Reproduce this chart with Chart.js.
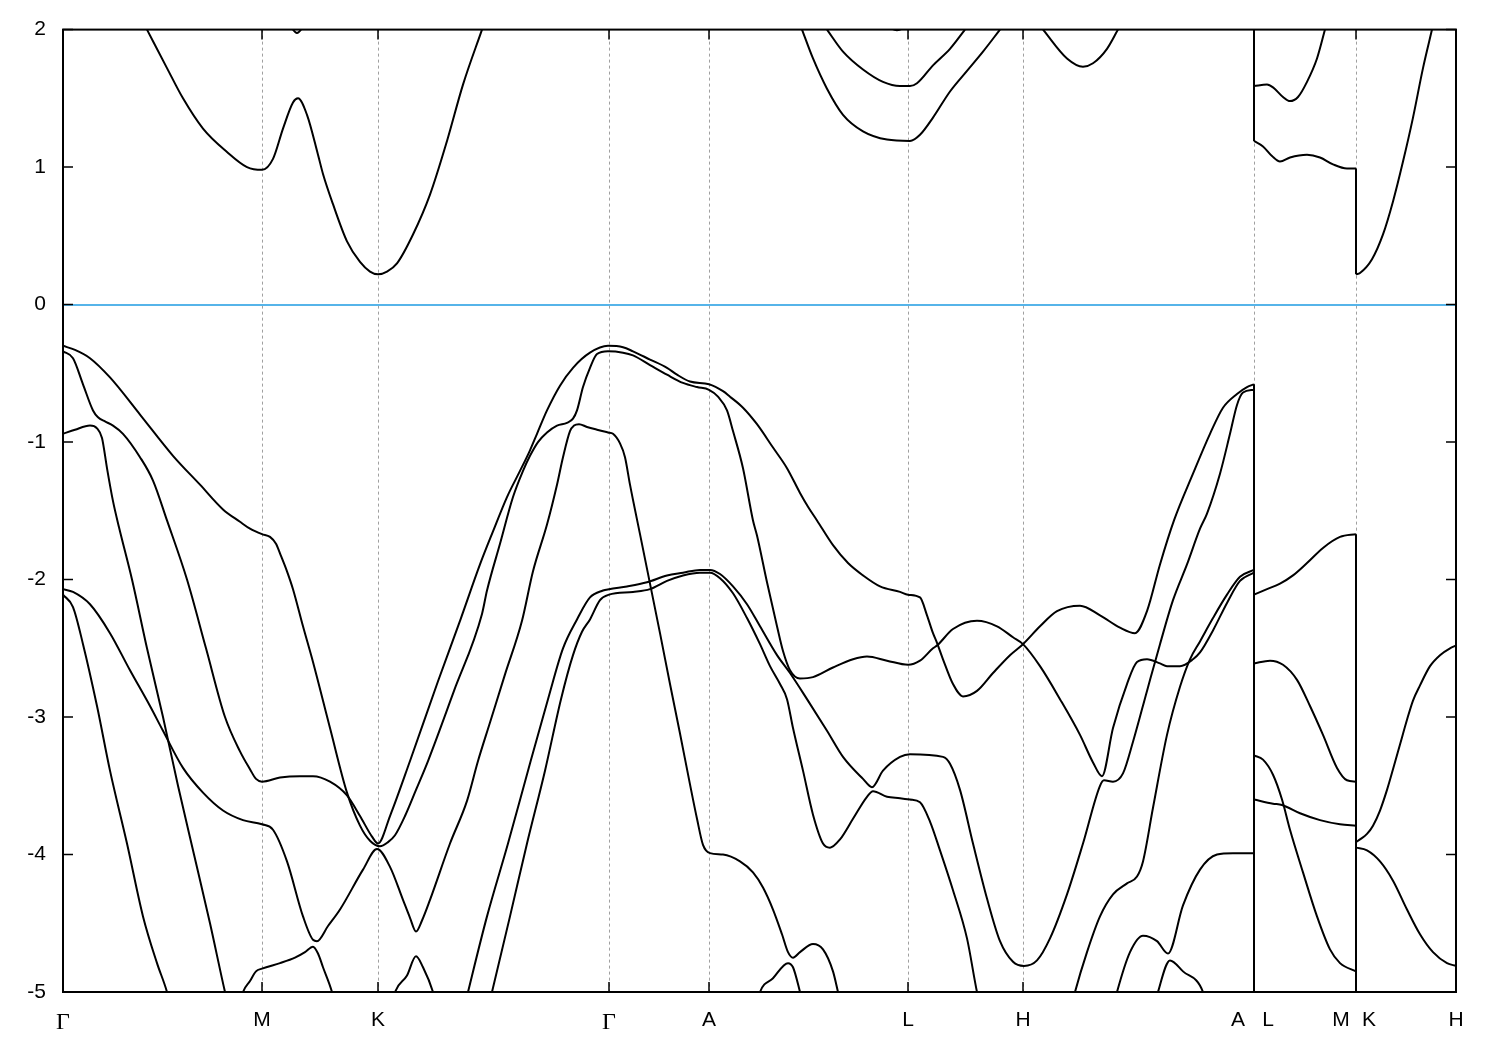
<!DOCTYPE html>
<html lang="en">
<head>
  <meta charset="UTF-8" />
  <title>Band structure</title>
  <script src="https://cdn.jsdelivr.net/npm/chart.js"></script>
  <style>
    html, body { margin: 0; padding: 0; background: #fff; }
    canvas { display: block; }
  </style>
</head>
<body>
  <canvas id="bands" width="1500" height="1050"></canvas>

  <script>
    // high-symmetry points along the k-path (path distance units)
    const kPoints = [63, 262, 378, 609, 709, 908, 1023, 1254, 1356, 1456];
    // label positions; A|L and M|K are jumps, so their two labels sit either side
    const kLabelPos = [63, 262, 378, 609, 709, 908, 1023, 1238, 1268, 1341, 1369, 1456];
    const kLabels = ['Γ', 'M', 'K', 'Γ', 'A', 'L', 'H', 'A', 'L', 'M', 'K', 'H'];
    const energyMin = -5;
    const energyMax = 2;

    // conduction bands  [k, E (eV)]
    const cb1 = [[147,2.0],[167,1.72],[183,1.50],[203,1.28],[227,1.11],[247,1.00],[262,0.98],[273,1.06],[283,1.28],[293,1.47],[298,1.50],[307,1.38],[318,1.09],[323,0.95],[333,0.73],[347,0.46],[360,0.31],[370,0.24],[378,0.22],[387,0.24],[397,0.30],[413,0.51],[430,0.80],[447,1.19],[463,1.60],[482,2.0]];
    const cb2 = [[289,2.04],[297,1.975],[305,2.04]];
    const cb3 = [[802,2.0],[813,1.79],[827,1.57],[843,1.38],[863,1.26],[887,1.20],[910,1.19],[920,1.235],[933,1.36],[950,1.55],[967,1.70],[983,1.84],[1000,2.0]];
    const cb4 = [[827,2.0],[843,1.84],[863,1.71],[883,1.62],[900,1.59],[910,1.59],[917,1.61],[933,1.74],[950,1.86],[965,2.0]];
    const cb5 = [[888,2.02],[897,1.995],[906,2.02]];
    const cb6 = [[1043,2.0],[1067,1.79],[1083,1.73],[1093,1.755],[1107,1.86],[1118,2.0]];
    const cb7 = [[1254,1.59],[1267,1.60],[1273,1.58],[1283,1.51],[1290,1.48],[1298,1.51],[1307,1.62],[1317,1.79],[1325,2.0]];
    const cb8 = [[1254,1.19],[1263,1.15],[1272,1.08],[1280,1.04],[1290,1.07],[1307,1.09],[1320,1.07],[1333,1.02],[1347,0.99],[1356,0.99]];
    const cb9 = [[1356,0.22],[1360,0.23],[1372,0.33],[1383,0.51],[1393,0.75],[1403,1.04],[1413,1.36],[1423,1.72],[1432,2.0]];

    // valence bands
    const vb1 = [[63,-0.30],[75,-0.33],[90,-0.39],[110,-0.53],[140,-0.80],[173,-1.10],[200,-1.31],[223,-1.49],[240,-1.58],[250,-1.63],[262,-1.67],[270,-1.69],[276,-1.74],[280,-1.81],[287,-1.94],[293,-2.07],[303,-2.34],[313,-2.60],[330,-3.08],[347,-3.55],[360,-3.79],[370,-3.90],[380,-3.94],[388,-3.91],[395,-3.86],[405,-3.72],[416,-3.53],[428,-3.32],[454,-2.81],[482,-2.25],[487,-2.08],[500,-1.74],[513,-1.40],[523,-1.21],[530,-1.10],[538,-1.00],[547,-0.93],[557,-0.88],[567,-0.86],[573,-0.83],[577,-0.77],[583,-0.60],[590,-0.46],[597,-0.36],[608,-0.34],[623,-0.35],[633,-0.37],[650,-0.44],[667,-0.51],[683,-0.57],[697,-0.60],[709,-0.62],[718,-0.67],[727,-0.77],[733,-0.92],[743,-1.19],[753,-1.57],[757,-1.68],[767,-2.02],[777,-2.34],[783,-2.52],[790,-2.66],[800,-2.72],[813,-2.71],[833,-2.64],[853,-2.58],[867,-2.56],[887,-2.59],[908,-2.62],[920,-2.59],[933,-2.50],[937,-2.48],[953,-2.36],[977,-2.30],[997,-2.34],[1013,-2.42],[1023,-2.47],[1040,-2.63],[1060,-2.87],[1080,-3.13],[1093,-3.33],[1102,-3.43],[1113,-3.08],[1127,-2.76],[1137,-2.60],[1147,-2.58],[1160,-2.61],[1167,-2.63],[1180,-2.63],[1193,-2.58],[1200,-2.53],[1213,-2.37],[1227,-2.17],[1240,-2.01],[1254,-1.95]];
    const vb2 = [[63,-0.34],[73,-0.39],[83,-0.58],[93,-0.77],[98,-0.82],[105,-0.85],[113,-0.88],[123,-0.94],[140,-1.11],[153,-1.28],[167,-1.57],[187,-2.0],[206,-2.5],[225,-3.0],[240,-3.25],[250,-3.38],[256,-3.45],[262,-3.47],[280,-3.44],[300,-3.43],[313,-3.43],[330,-3.47],[347,-3.57],[360,-3.72],[372,-3.87],[378,-3.92],[390,-3.72],[410,-3.32],[438,-2.74],[461,-2.28],[480,-1.89],[493,-1.65],[507,-1.40],[520,-1.21],[530,-1.06],[537,-0.94],[547,-0.77],[560,-0.59],[573,-0.46],[590,-0.35],[608,-0.30],[623,-0.31],[633,-0.34],[650,-0.40],[667,-0.46],[677,-0.51],[690,-0.56],[709,-0.58],[723,-0.63],[730,-0.67],[743,-0.75],[757,-0.87],[773,-1.04],[787,-1.19],[800,-1.37],[808,-1.47],[817,-1.57],[833,-1.75],[848,-1.88],[863,-1.97],[880,-2.05],[900,-2.09],[908,-2.11],[920,-2.13],[927,-2.26],[933,-2.39],[937,-2.46],[943,-2.58],[953,-2.76],[963,-2.85],[977,-2.81],[993,-2.68],[1010,-2.55],[1023,-2.47],[1040,-2.34],[1057,-2.23],[1080,-2.19],[1100,-2.26],[1120,-2.35],[1135,-2.39],[1147,-2.23],[1160,-1.89],[1174,-1.57],[1193,-1.23],[1210,-0.94],[1223,-0.75],[1237,-0.65],[1247,-0.60],[1254,-0.58]];
    const vb3 = [[63,-0.94],[75,-0.91],[90,-0.88],[97,-0.90],[102,-0.97],[107,-1.19],[113,-1.43],[119,-1.62],[132,-2.0],[147,-2.5],[163,-3.0],[178,-3.5],[194,-4.0],[210,-4.5],[225,-5.0],[227,-5.06]];
    const vb4 = [[63,-2.07],[73,-2.09],[90,-2.18],[110,-2.39],[130,-2.66],[150,-2.92],[163,-3.10],[183,-3.37],[203,-3.55],[223,-3.68],[243,-3.75],[262,-3.78],[273,-3.82],[287,-4.05],[303,-4.45],[313,-4.62],[317,-4.63],[328,-4.52],[340,-4.40],[363,-4.11],[377,-3.96],[390,-4.09],[403,-4.33],[410,-4.46],[416,-4.56],[422,-4.48],[430,-4.33],[450,-3.92],[467,-3.61],[478,-3.32],[490,-3.04],[505,-2.69],[522,-2.30],[533,-1.94],[547,-1.60],[557,-1.31],[563,-1.11],[570,-0.92],[574,-0.88],[579,-0.87],[587,-0.89],[597,-0.91],[608,-0.93],[613,-0.94],[620,-1.01],[625,-1.11],[630,-1.31],[640,-1.67],[650,-2.03],[660,-2.39],[670,-2.76],[680,-3.12],[690,-3.49],[697,-3.74],[703,-3.93],[710,-3.99],[723,-4.00],[740,-4.05],[753,-4.13],[763,-4.24],[773,-4.40],[782,-4.58],[788,-4.71],[793,-4.75],[800,-4.71],[813,-4.65],[823,-4.69],[833,-4.85],[838,-5.0],[840,-5.06]];
    const vb5 = [[63,-2.11],[73,-2.20],[83,-2.47],[97,-2.92],[110,-3.39],[127,-3.92],[143,-4.45],[157,-4.79],[167,-5.0],[169,-5.06]];
    const vb6 = [[241,-5.06],[243,-5.0],[250,-4.92],[256,-4.85],[262,-4.83],[280,-4.79],[295,-4.75],[305,-4.71],[313,-4.67],[318,-4.72],[323,-4.82],[332,-5.0],[334,-5.06]];
    const vb7 = [[393,-5.06],[395,-5.0],[407,-4.88],[416,-4.74],[423,-4.82],[433,-5.0],[435,-5.06]];
    const vb8 = [[466,-5.06],[468,-5.0],[487,-4.45],[508,-3.92],[528,-3.39],[548,-2.87],[563,-2.50],[577,-2.29],[590,-2.13],[603,-2.08],[609,-2.07],[627,-2.05],[647,-2.02],[667,-1.97],[683,-1.95],[700,-1.93],[710,-1.93],[720,-1.96],[733,-2.05],[747,-2.18],[760,-2.34],[777,-2.55],[790,-2.68],[807,-2.87],[827,-3.10],[843,-3.29],[863,-3.45],[872,-3.51],[883,-3.39],[900,-3.29],[910,-3.27],[943,-3.29],[950,-3.34],[960,-3.53],[973,-3.92],[987,-4.32],[1000,-4.63],[1013,-4.78],[1024,-4.81],[1037,-4.77],[1050,-4.61],[1067,-4.29],[1083,-3.92],[1100,-3.50],[1104,-3.46],[1113,-3.47],[1123,-3.41],[1133,-3.18],[1147,-2.81],[1160,-2.47],[1173,-2.15],[1187,-1.89],[1200,-1.63],[1207,-1.52],[1220,-1.23],[1230,-0.94],[1237,-0.73],[1243,-0.64],[1254,-0.62]];
    const vb9 = [[490,-5.06],[492,-5.0],[510,-4.45],[527,-3.92],[545,-3.39],[561,-2.87],[573,-2.55],[582,-2.38],[590,-2.29],[600,-2.15],[609,-2.11],[633,-2.09],[650,-2.07],[667,-2.01],[683,-1.97],[700,-1.95],[710,-1.95],[720,-1.99],[733,-2.10],[747,-2.28],[760,-2.47],[770,-2.63],[780,-2.76],[787,-2.87],[793,-3.08],[803,-3.39],[813,-3.71],[823,-3.92],[830,-3.95],[840,-3.89],[853,-3.74],[867,-3.58],[873,-3.54],[887,-3.58],[900,-3.59],[910,-3.60],[920,-3.62],[930,-3.76],[940,-3.97],[953,-4.26],[967,-4.61],[977,-5.0],[979,-5.06]];
    const vb10 = [[758,-5.06],[760,-5.0],[773,-4.90],[788,-4.79],[793,-4.82],[800,-5.0],[802,-5.06]];
    const vb11 = [[1073,-5.06],[1075,-5.0],[1087,-4.71],[1100,-4.45],[1113,-4.29],[1127,-4.21],[1137,-4.16],[1143,-4.05],[1153,-3.66],[1167,-3.13],[1180,-2.78],[1190,-2.58],[1200,-2.45],[1213,-2.28],[1227,-2.11],[1240,-1.98],[1254,-1.93]];
    const vb12 = [[1115,-5.06],[1117,-5.0],[1130,-4.71],[1143,-4.59],[1157,-4.63],[1168,-4.72],[1183,-4.37],[1200,-4.11],[1217,-4.00],[1233,-3.99],[1254,-3.99]];
    const vb13 = [[1156,-5.06],[1158,-5.0],[1170,-4.77],[1183,-4.85],[1203,-5.0],[1205,-5.06]];
    const vb14 = [[1254,-2.11],[1267,-2.07],[1280,-2.03],[1293,-1.97],[1307,-1.88],[1323,-1.77],[1340,-1.69],[1356,-1.67]];
    const vb15 = [[1254,-2.61],[1270,-2.59],[1283,-2.62],[1297,-2.73],[1310,-2.92],[1323,-3.13],[1337,-3.37],[1347,-3.46],[1356,-3.47]];
    const vb16 = [[1254,-3.28],[1263,-3.31],[1273,-3.42],[1282,-3.60],[1290,-3.82],[1303,-4.13],[1317,-4.45],[1330,-4.69],[1340,-4.79],[1356,-4.85]];
    const vb17 = [[1254,-3.60],[1273,-3.63],[1282,-3.64],[1300,-3.70],[1320,-3.75],[1340,-3.78],[1356,-3.79]];
    const vb18 = [[1356,-3.91],[1360,-3.89],[1367,-3.85],[1373,-3.79],[1380,-3.68],[1387,-3.53],[1393,-3.38],[1400,-3.20],[1407,-3.02],[1413,-2.88],[1420,-2.77],[1430,-2.63],[1440,-2.55],[1450,-2.50],[1456,-2.48]];
    const vb19 = [[1356,-3.95],[1367,-3.97],[1380,-4.05],[1393,-4.19],[1407,-4.40],[1420,-4.58],[1433,-4.71],[1447,-4.79],[1456,-4.81]];

    // bands jump where the path is broken (A|L and M|K)
    const jumps = [
      [[1254,2.05],[1254,1.19]],
      [[1254,-0.58],[1254,-5.05]],
      [[1356,0.99],[1356,0.22]],
      [[1356,-1.67],[1356,-5.05]]
    ];

    const bands = [cb1, cb2, cb3, cb4, cb5, cb6, cb7, cb8, cb9,
      vb1, vb2, vb3, vb4, vb5, vb6, vb7, vb8, vb9, vb10,
      vb11, vb12, vb13, vb14, vb15, vb16, vb17, vb18, vb19];

    const toXY = pts => pts.map(([x, y]) => ({ x: x, y: y }));

    const datasets = bands.map(b => ({
      data: toXY(b),
      borderColor: '#000',
      borderWidth: 2,
      borderJoinStyle: 'round',
      pointRadius: 0,
      fill: false,
      cubicInterpolationMode: 'monotone'
    })).concat(jumps.map(j => ({
      data: toXY(j),
      borderColor: '#000',
      borderWidth: 2,
      pointRadius: 0,
      fill: false,
      tension: 0
    })));

    const xTickVals = Array.from(new Set(kPoints.concat(kLabelPos))).sort((a, b) => a - b);
    const sans = "'Liberation Sans', Arial, sans-serif";
    const font = { family: sans, size: 21 };

    // frame and inward tick marks, gnuplot style
    const frame = {
      id: 'frame',
      afterDraw(chart) {
        const { ctx, chartArea: a, scales: { x, y } } = chart;
        ctx.save();
        ctx.strokeStyle = '#000';
        ctx.lineWidth = 1.5;
        ctx.beginPath();
        y.ticks.forEach(t => {
          const py = y.getPixelForValue(t.value);
          ctx.moveTo(a.left, py); ctx.lineTo(a.left + 10, py);
          ctx.moveTo(a.right, py); ctx.lineTo(a.right - 10, py);
        });
        kPoints.forEach(v => {
          const px = x.getPixelForValue(v);
          ctx.moveTo(px, a.bottom); ctx.lineTo(px, a.bottom - 10);
          ctx.moveTo(px, a.top); ctx.lineTo(px, a.top + 10);
        });
        ctx.stroke();
        ctx.lineWidth = 2;
        ctx.strokeRect(a.left, a.top, a.right - a.left, a.bottom - a.top);
        ctx.restore();
      }
    };

    new Chart(document.getElementById('bands'), {
      type: 'line',
      data: { datasets: datasets },
      plugins: [frame],
      options: {
        responsive: false,
        animation: false,
        devicePixelRatio: 1,
        layout: { padding: { top: 28, right: 44, left: 0, bottom: 0 } },
        plugins: { legend: { display: false }, tooltip: { enabled: false } },
        scales: {
          x: {
            type: 'linear',
            min: 63,
            max: 1456,
            afterBuildTicks: axis => { axis.ticks = xTickVals.map(v => ({ value: v })); },
            afterFit: axis => { axis.height = 58; },
            ticks: {
              autoSkip: false,
              maxRotation: 0,
              padding: 16,
              color: '#000',
              // the Gamma comes from a serif symbol font in the original
              font: c => (c.tick && kLabels[kLabelPos.indexOf(c.tick.value)] === 'Γ')
                ? { family: "'Liberation Serif', 'DejaVu Serif', serif", size: 24 }
                : font,
              callback: v => {
                const i = kLabelPos.indexOf(v);
                return i >= 0 ? kLabels[i] : '';
              }
            },
            grid: {
              drawTicks: false,
              lineWidth: 1,
              color: c => kPoints.includes(c.tick.value) ? '#a0a0a0' : 'rgba(0,0,0,0)'
            },
            border: { display: false, dash: [3, 3] }
          },
          y: {
            min: energyMin,
            max: energyMax,
            afterFit: axis => { axis.width = 63; },
            ticks: { stepSize: 1, padding: 17, color: '#000', font: font },
            grid: {
              drawTicks: false,
              lineWidth: 2,
              color: c => c.tick.value === 0 ? '#56b4e9' : 'rgba(0,0,0,0)'
            },
            border: { display: false }
          }
        }
      }
    });
  </script>
</body>
</html>
